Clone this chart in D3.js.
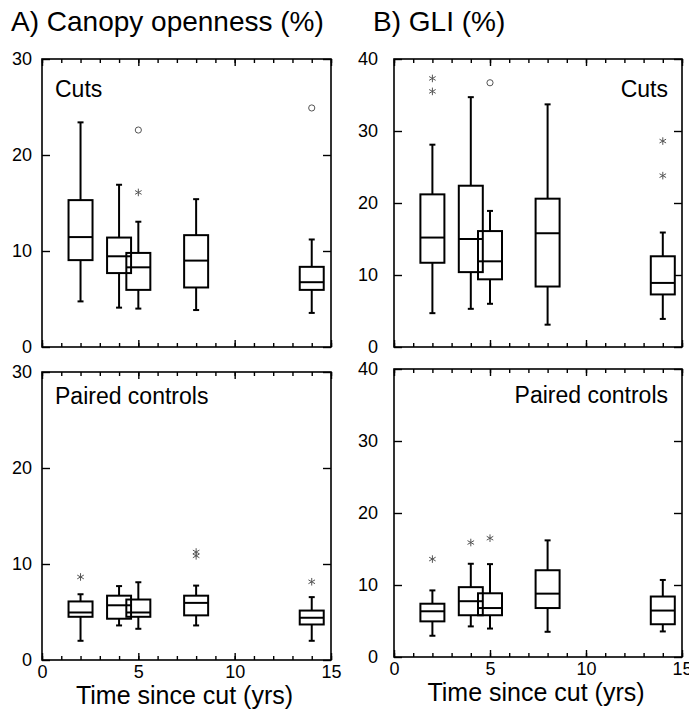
<html>
<head>
<meta charset="UTF-8">
<title>Canopy openness and GLI box plots</title>
<script src="https://d3js.org/d3.v7.min.js"></script>
<style>
  body { margin: 0; background: white; }
  text { font-family: "Liberation Sans", Arial, Helvetica, sans-serif; fill: black; }
</style>
</head>
<body>
<svg id="fig" width="689" height="712"></svg>
<script>
// years since cut (box positions)
const years = [2, 4, 5, 8, 14];

// box stats per year: [whisker low, Q1, median, Q3, whisker high]
const canopyCuts = [
  [4.75, 9.05, 11.45, 15.3, 23.4],
  [4.1, 7.7, 9.45, 11.4, 16.9],
  [4.0, 5.95, 8.3, 9.8, 13.05],
  [3.85, 6.2, 9.0, 11.65, 15.4],
  [3.55, 5.95, 6.75, 8.35, 11.2]
];
const canopyControls = [
  [2.0, 4.5, 4.95, 6.1, 6.85],
  [3.6, 4.3, 5.7, 6.7, 7.7],
  [3.25, 4.5, 4.95, 6.3, 8.1],
  [3.6, 4.65, 5.95, 6.7, 7.75],
  [2.0, 3.7, 4.4, 5.15, 6.55]
];
const gliCuts = [
  [4.7, 11.7, 15.2, 21.2, 28.1],
  [5.3, 10.4, 15.0, 22.4, 34.7],
  [6.0, 9.4, 11.9, 16.1, 18.9],
  [3.1, 8.4, 15.8, 20.6, 33.7],
  [3.9, 7.3, 8.9, 12.6, 15.9]
];
const gliControls = [
  [2.95, 4.95, 6.35, 7.4, 9.25],
  [4.25, 5.8, 7.75, 9.7, 12.95],
  [3.95, 5.8, 6.8, 8.85, 12.9],
  [3.5, 6.8, 8.8, 12.05, 16.2],
  [3.55, 4.55, 6.45, 8.4, 10.7]
];

// outliers: [year, value, kind]  ("o" = circle, "*" = asterisk)
const canopyCutsOut = [[5, 22.6, "o"], [5, 16.1, "*"], [14, 24.9, "o"]];
const canopyControlsOut = [[2, 8.65, "*"], [8, 11.25, "*"], [8, 10.85, "*"], [14, 8.15, "*"]];
const gliCutsOut = [[2, 37.3, "*"], [2, 35.5, "*"], [5, 36.7, "o"], [14, 28.6, "*"], [14, 23.8, "*"]];
const gliControlsOut = [[2, 13.6, "*"], [4, 15.9, "*"], [5, 16.5, "*"]];

const xTicksMajor = [0, 5, 10, 15];
const canopyTicks = [0, 10, 20, 30];
const gliTicks = [0, 10, 20, 30, 40];

const svg = d3.select("#fig");

svg.append("text").attr("x", 11).attr("y", 31).style("font-size", "28px").text("A) Canopy openness (%)");
svg.append("text").attr("x", 373).attr("y", 31).style("font-size", "28px").text("B) GLI (%)");

function drawPanel(opt) {
  const g = svg.append("g");
  const x = d3.scaleLinear().domain([0, 15]).range([opt.left, opt.right]);
  const y = d3.scaleLinear().domain([0, opt.ymax]).range([opt.bottom, opt.top]);

  // minor x ticks top and bottom
  const minor = d3.range(0, 16);
  g.append("g").attr("transform", "translate(0," + opt.bottom + ")")
    .call(d3.axisBottom(x).tickValues(minor).tickSize(-4).tickFormat(""));
  g.append("g").attr("transform", "translate(0," + opt.top + ")")
    .call(d3.axisTop(x).tickValues(minor).tickSize(-4).tickFormat(""));
  // major x ticks
  const bottomAx = d3.axisBottom(x).tickValues(xTicksMajor).tickSize(-7).tickPadding(5);
  if (!opt.xLabels) bottomAx.tickFormat("");
  g.append("g").attr("transform", "translate(0," + opt.bottom + ")").call(bottomAx);
  g.append("g").attr("transform", "translate(0," + opt.top + ")")
    .call(d3.axisTop(x).tickValues(xTicksMajor).tickSize(-7).tickFormat(""));
  // y ticks
  g.append("g").attr("transform", "translate(" + opt.left + ",0)")
    .call(d3.axisLeft(y).tickValues(opt.yTicks).tickSize(-8).tickPadding(opt.labelGap));
  g.append("g").attr("transform", "translate(" + opt.right + ",0)")
    .call(d3.axisRight(y).tickValues(opt.yTicks).tickSize(-8).tickFormat(""));

  g.selectAll(".domain").remove();
  g.selectAll(".tick line").attr("stroke", "black").attr("stroke-width", 1.4);
  g.selectAll(".tick text").style("font-size", "18px").attr("fill", "black");

  // frame
  g.append("rect")
    .attr("x", opt.left).attr("y", opt.top)
    .attr("width", opt.right - opt.left).attr("height", opt.bottom - opt.top)
    .attr("fill", "none").attr("stroke", "black").attr("stroke-width", 1.6);

  // boxes
  const half = 12, cap = 3;
  opt.stats.forEach((s, i) => {
    const cx = x(years[i]);
    const b = g.append("g").attr("stroke", "black").attr("stroke-width", 2).attr("fill", "none");
    b.append("line").attr("x1", cx).attr("x2", cx).attr("y1", y(s[3])).attr("y2", y(s[4]));
    b.append("line").attr("x1", cx).attr("x2", cx).attr("y1", y(s[1])).attr("y2", y(s[0]));
    b.append("line").attr("x1", cx - cap).attr("x2", cx + cap).attr("y1", y(s[4])).attr("y2", y(s[4]));
    b.append("line").attr("x1", cx - cap).attr("x2", cx + cap).attr("y1", y(s[0])).attr("y2", y(s[0]));
    b.append("rect").attr("x", cx - half).attr("width", half * 2)
      .attr("y", y(s[3])).attr("height", y(s[1]) - y(s[3]));
    b.append("line").attr("x1", cx - half).attr("x2", cx + half).attr("y1", y(s[2])).attr("y2", y(s[2]));
  });

  // outliers
  opt.outliers.forEach(o => {
    const sym = o[2] === "o" ? d3.symbolCircle : d3.symbolAsterisk;
    const size = o[2] === "o" ? 30 : 40;
    g.append("path")
      .attr("transform", "translate(" + x(o[0]) + "," + y(o[1]) + ")")
      .attr("d", d3.symbol().type(sym).size(size)())
      .attr("fill", "none").attr("stroke", "#555").attr("stroke-width", 1);
  });

  // panel label
  g.append("text")
    .attr("x", opt.labelAnchor === "end" ? opt.right - 14 : opt.left + 13)
    .attr("y", opt.top + opt.labelDy)
    .attr("text-anchor", opt.labelAnchor)
    .style("font-size", "23px")
    .text(opt.label);

  if (opt.xLabels) {
    g.append("text")
      .attr("x", (opt.left + opt.right) / 2 - 2)
      .attr("y", opt.bottom + 44)
      .attr("text-anchor", "middle")
      .style("font-size", "25px")
      .text("Time since cut (yrs)");
  }
}

drawPanel({ left: 42, right: 331, top: 59, bottom: 347, ymax: 30, yTicks: canopyTicks, labelGap: 10,
  stats: canopyCuts, outliers: canopyCutsOut, label: "Cuts", labelAnchor: "start", labelDy: 38, xLabels: false });
drawPanel({ left: 42, right: 331, top: 372, bottom: 660, ymax: 30, yTicks: canopyTicks, labelGap: 10,
  stats: canopyControls, outliers: canopyControlsOut, label: "Paired controls", labelAnchor: "start", labelDy: 32, xLabels: true });
drawPanel({ left: 394, right: 682, top: 59, bottom: 347, ymax: 40, yTicks: gliTicks, labelGap: 16,
  stats: gliCuts, outliers: gliCutsOut, label: "Cuts", labelAnchor: "end", labelDy: 38, xLabels: false });
drawPanel({ left: 394, right: 682, top: 369, bottom: 657, ymax: 40, yTicks: gliTicks, labelGap: 16,
  stats: gliControls, outliers: gliControlsOut, label: "Paired controls", labelAnchor: "end", labelDy: 34, xLabels: true });
</script>
</body>
</html>
